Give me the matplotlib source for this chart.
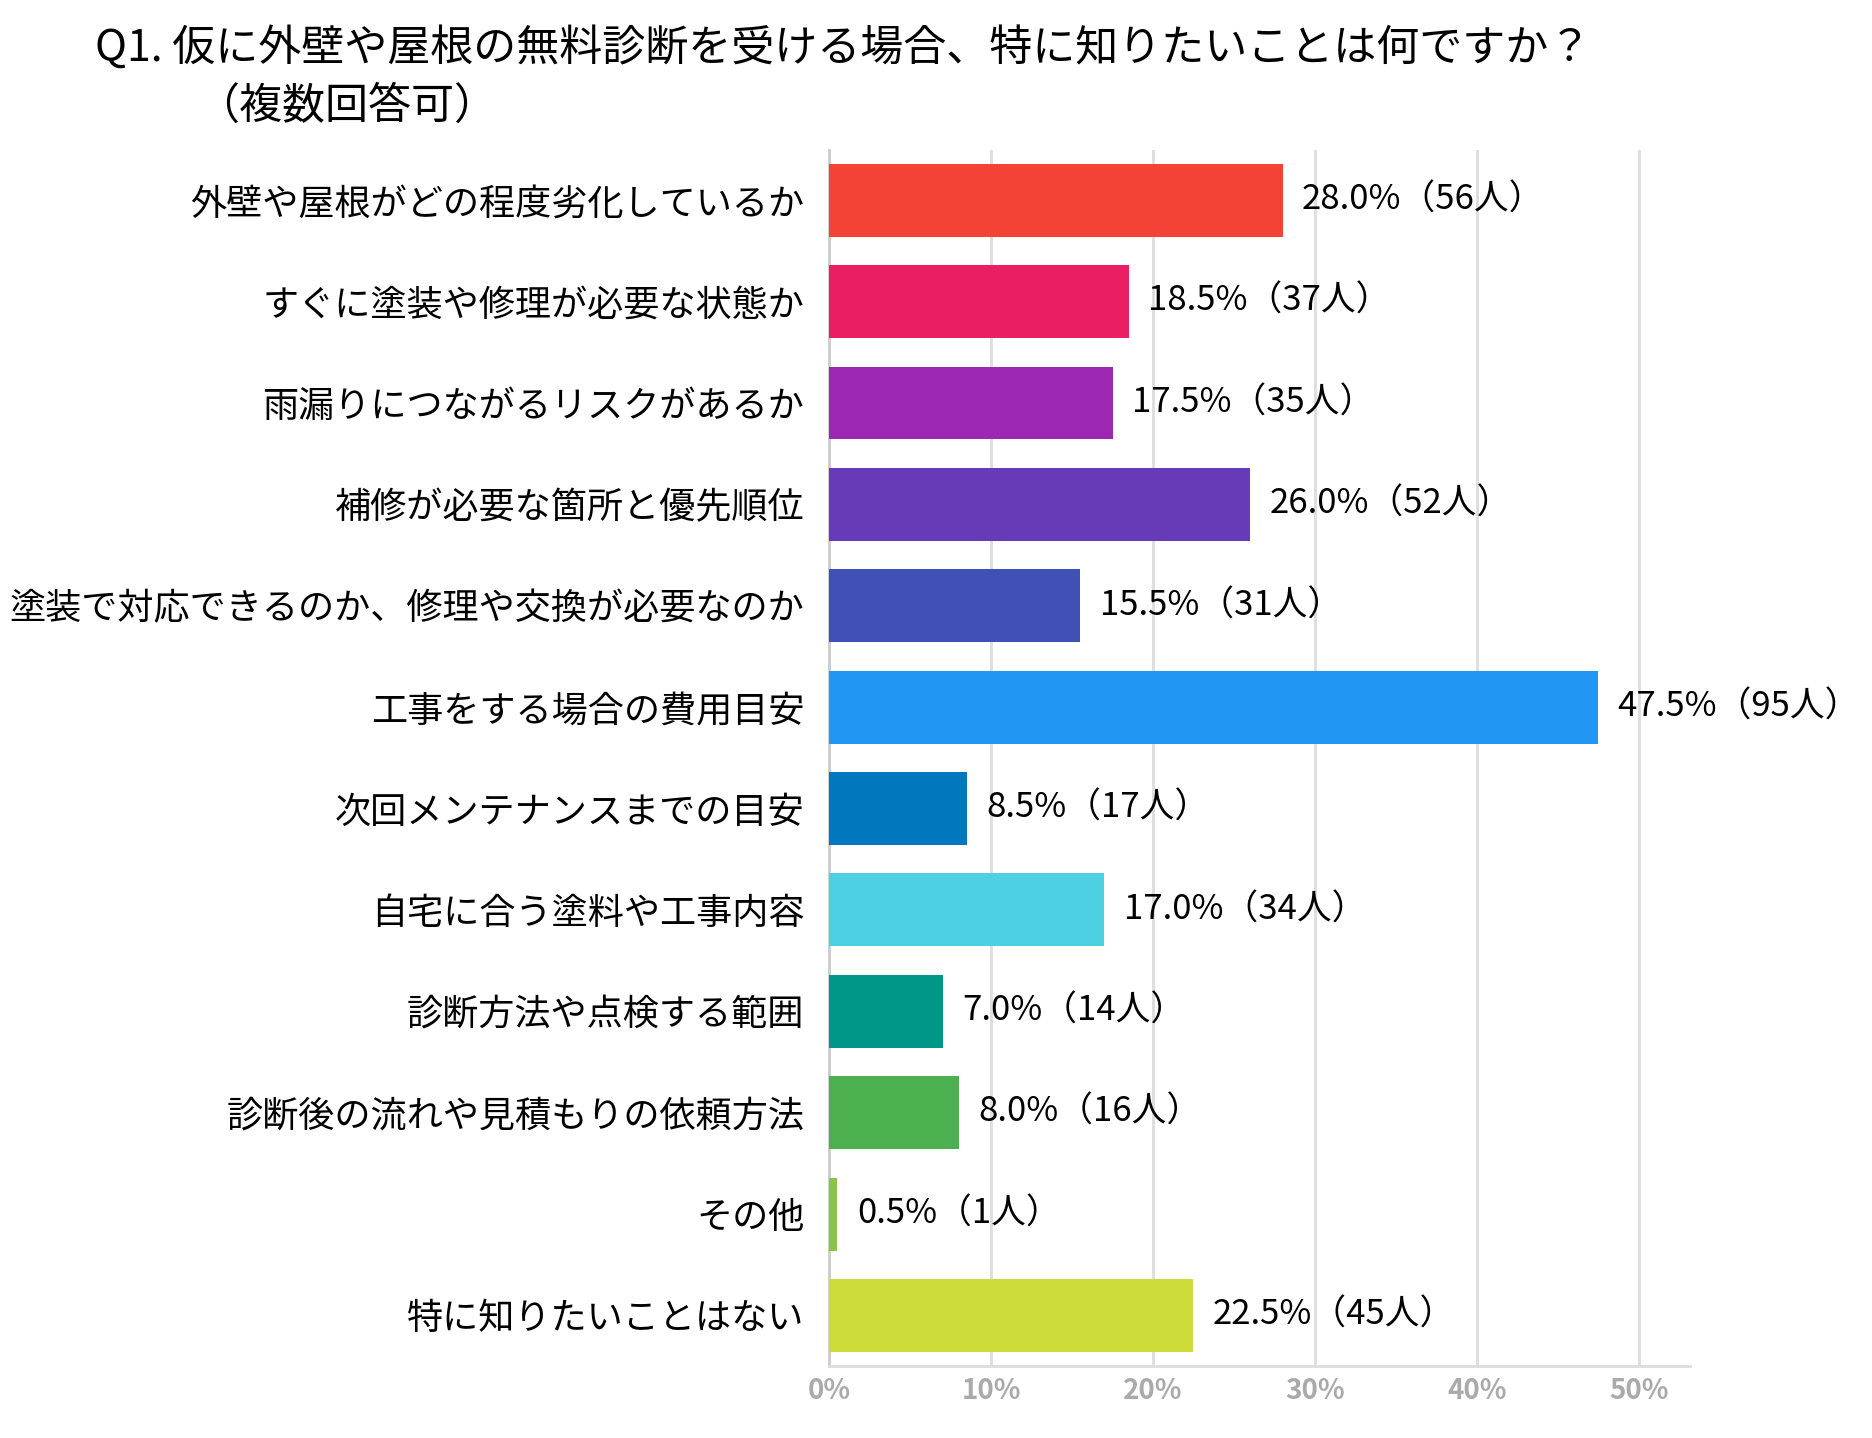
import matplotlib.pyplot as plt

plt.rcParams['font.family'] = ['Noto Sans CJK JP', 'DejaVu Sans']

categories = ['外壁や屋根がどの程度劣化しているか', 'すぐに塗装や修理が必要な状態か',
              '雨漏りにつながるリスクがあるか', '補修が必要な箇所と優先順位',
              '塗装で対応できるのか、修理や交換が必要なのか', '工事をする場合の費用目安',
              '次回メンテナンスまでの目安', '自宅に合う塗料や工事内容',
              '診断方法や点検する範囲', '診断後の流れや見積もりの依頼方法',
              'その他', '特に知りたいことはない']
percents = [28.0, 18.5, 17.5, 26.0, 15.5, 47.5, 8.5, 17.0, 7.0, 8.0, 0.5, 22.5]
counts = [56, 37, 35, 52, 31, 95, 17, 34, 14, 16, 1, 45]
colors = ['#F44336', '#E91E63', '#9C27B0', '#673AB7', '#3F51B5', '#2196F3',
          '#0277BD', '#4DD0E1', '#009688', '#4CAF50', '#8BC34A', '#CDDC39']

fig = plt.figure(figsize=(18.72, 14.38), dpi=100)
ax = fig.add_axes([0.443, 0.05, 0.46, 0.846])
y = list(range(len(categories)))
ax.barh(y, percents, color=colors, height=0.72, zorder=3)
ax.set_ylim(len(categories) - 0.5, -0.5)
ax.set_xlim(0, 53.2)
ax.set_xticks([0, 10, 20, 30, 40, 50])
ax.set_xticklabels(['0%', '10%', '20%', '30%', '40%', '50%'], color='#aaaaaa',
                   fontsize=20, fontweight='bold')
ax.set_yticks(y)
ax.set_yticklabels(categories, fontsize=26)
ax.tick_params(axis='y', length=0, pad=18)
ax.tick_params(axis='x', length=0, pad=8)
ax.grid(axis='x', color='#dddddd', linewidth=2, zorder=0)
for s in ['top', 'right']:
    ax.spines[s].set_visible(False)
ax.spines['left'].set_color('#cccccc')
ax.spines['bottom'].set_color('#dddddd')
ax.spines['left'].set_linewidth(2)
ax.spines['bottom'].set_linewidth(2)
for i, (p, c) in enumerate(zip(percents, counts)):
    ax.text(p + 1.2, i, f'{p:.1f}%（{c}人）', va='center', ha='left', fontsize=25)

fig.text(0.051, 0.966, 'Q1. 仮に外壁や屋根の無料診断を受ける場合、特に知りたいことは何ですか？',
         fontsize=31, va='center', ha='left')
fig.text(0.105, 0.926, '（複数回答可）', fontsize=31, va='center', ha='left')

fig.savefig('out.png', dpi=100, facecolor='white')
